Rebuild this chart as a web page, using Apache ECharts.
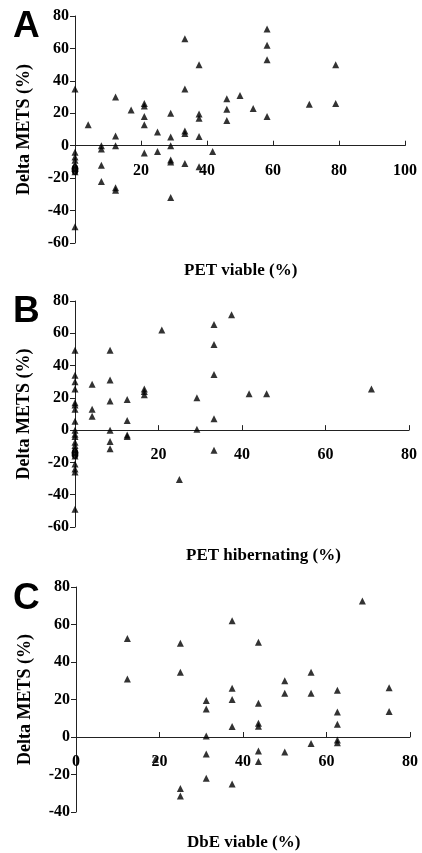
<!DOCTYPE html>
<html>
<head>
<meta charset="utf-8">
<script src="https://cdn.jsdelivr.net/npm/echarts@6/dist/echarts.min.js"></script>
<style>
  html, body { margin: 0; padding: 0; background: #fff; }
  #chart { width: 422px; height: 853px; }
</style>
</head>
<body>
<div id="chart"></div>
<script>
// panel A: PET viable (%) vs Delta METS (%)
var viableX = [0, 0, 0, 0, 0, 0, 0, 0, 4, 8, 8, 8, 8, 12.3, 12.3, 12.3, 12.3, 12.3, 17, 21, 21, 21, 21, 21,
    25, 25, 29, 29, 29, 29, 29, 29, 33.3, 33.3, 33.3, 33.3, 33.3, 37.6, 37.6, 37.6, 37.6, 37.6, 41.7,
    46, 46, 46, 50, 54, 58.2, 58.2, 58.2, 58.2, 71, 79, 79];
var viableY = [35, -4, -7, -9, -12, -14, -16, -50, 13, 0, -2, -12, -22, 30, 6, 0, -26, -27.5, 22, 26, 24.5, 18, 13, -4.5,
    8.5, -3.5, 20, 5.3, 0, -8.8, -10, -32, 66, 35, 9, 7.5, -11, 50, 19.5, 17, 5.7, -13, -3.5,
    29, 22.5, 15.5, 31, 23, 72, 62, 53, 18, 25.5, 50, 26];

// panel B: PET hibernating (%) vs Delta METS (%)
var hibernX = [0, 0, 0, 0, 0, 0, 0, 0, 0, 0, 0, 0, 0, 0, 0, 0, 0, 0, 0, 0,
    4.1, 4.1, 4.1, 8.4, 8.4, 8.4, 8.4, 8.4, 8.4, 12.5, 12.5, 12.5, 12.5, 16.6, 16.6, 16.6,
    20.8, 25, 29.2, 29.2, 33.3, 33.3, 33.3, 33.3, 33.3, 37.5, 41.7, 45.9, 71];
var hibernY = [49.5, 34, 30, 25.5, 17, 15.5, 13, 5.5, 0, -2.5, -4, -7.5, -9.5, -12, -14, -16, -21, -24, -26, -49,
    28.5, 13, 8.6, 49.5, 31, 18, 0, -7, -11.5, 19, 6, -3, -4, 25.5, 24, 22,
    62, -30.5, 20, 0.5, 65.5, 53, 34.5, 7, -12.5, 71.5, 22.6, 22.6, 25.5];

// panel C: DbE viable (%) vs Delta METS (%)
var dbeX = [12.3, 12.3, 19, 25, 25, 25, 25, 31.2, 31.2, 31.2, 31.2, 31.2, 37.4, 37.4, 37.4, 37.4, 37.4,
    43.7, 43.7, 43.7, 43.7, 43.7, 43.7, 50, 50, 50, 56.3, 56.3, 56.3, 62.6, 62.6, 62.6, 62.6, 62.6,
    68.6, 75, 75];
var dbeY = [52.5, 31, -12, 50, 34.5, -27.5, -31.5, 19.5, 15, 0.5, -9, -22, 62, 26, 20, 5.6, -25,
    50.5, 18, 7.3, 5.7, -7.5, -13, 30, 23.3, -8, 34.5, 23.3, -3.5, 25, 13.4, 6.8, -1.6, -3,
    72.5, 26.3, 13.6];

var xNames = ['PET viable (%)', 'PET hibernating (%)', 'DbE viable (%)'];
var letters = ['A', 'B', 'C'];
var xMax = [100, 80, 80];
var yMin = [-60, -60, -40];
var yMax = 80;

function zip(xs, ys) {
    return xs.map(function (x, i) { return [x, ys[i]]; });
}
var sets = [zip(viableX, viableY), zip(hibernX, hibernY), zip(dbeX, dbeY)];

var serif = '"Liberation Serif", "DejaVu Serif", serif';
var grids = [
    {left: 75, top: 16, width: 330, height: 227},
    {left: 75, top: 301, width: 334, height: 226},
    {left: 76, top: 587, width: 334, height: 225}
];
var nameY = [272, 557, 844];
var letterY = [8, 293, 580];

var labelStyle = {color: '#000', fontFamily: serif, fontWeight: 'bold', fontSize: 16};

var option = {
    backgroundColor: '#fff',
    animation: false,
    grid: grids,
    xAxis: grids.map(function (g, i) {
        // x axis sits on the y = 0 line, labels hang below it
        var off = -g.height * (0 - yMin[i]) / (yMax - yMin[i]);
        return {
            gridIndex: i, type: 'value', min: 0, max: xMax[i], interval: 20,
            position: 'bottom', offset: off,
            splitLine: {show: false},
            axisLine: {onZero: false, lineStyle: {color: '#222', width: 1}},
            axisTick: {inside: true, length: 5, lineStyle: {color: '#222'}},
            axisLabel: Object.assign({margin: 17}, labelStyle)
        };
    }),
    yAxis: grids.map(function (g, i) {
        return {
            gridIndex: i, type: 'value', min: yMin[i], max: yMax, interval: 20,
            splitLine: {show: false},
            name: 'Delta METS (%)', nameLocation: 'middle', nameRotate: 90, nameGap: 42,
            nameTextStyle: {color: '#000', fontFamily: serif, fontWeight: 'bold', fontSize: 18},
            axisLine: {show: true, onZero: false, lineStyle: {color: '#222', width: 1}},
            axisTick: {show: true, length: 5, lineStyle: {color: '#222'}},
            axisLabel: Object.assign({margin: 6}, labelStyle)
        };
    }),
    series: sets.map(function (d, i) {
        return {
            type: 'scatter', xAxisIndex: i, yAxisIndex: i,
            symbol: 'triangle', symbolSize: 7,
            itemStyle: {color: '#000'},
            data: d
        };
    }),
    graphic: [].concat(
        xNames.map(function (t, i) {
            return {
                type: 'text', left: grids[i].left + grids[i].width / 2 - 56, top: nameY[i] - 10,
                style: {text: t, fill: '#000', font: 'bold 17px ' + serif}
            };
        }),
        letters.map(function (t, i) {
            return {
                type: 'text', left: 13, top: letterY[i],
                style: {text: t, fill: '#000', font: 'bold 37px "Liberation Sans", Arial, sans-serif'}
            };
        })
    )
};

var myChart = echarts.init(document.getElementById('chart'));
myChart.setOption(option);
</script>
</body>
</html>
